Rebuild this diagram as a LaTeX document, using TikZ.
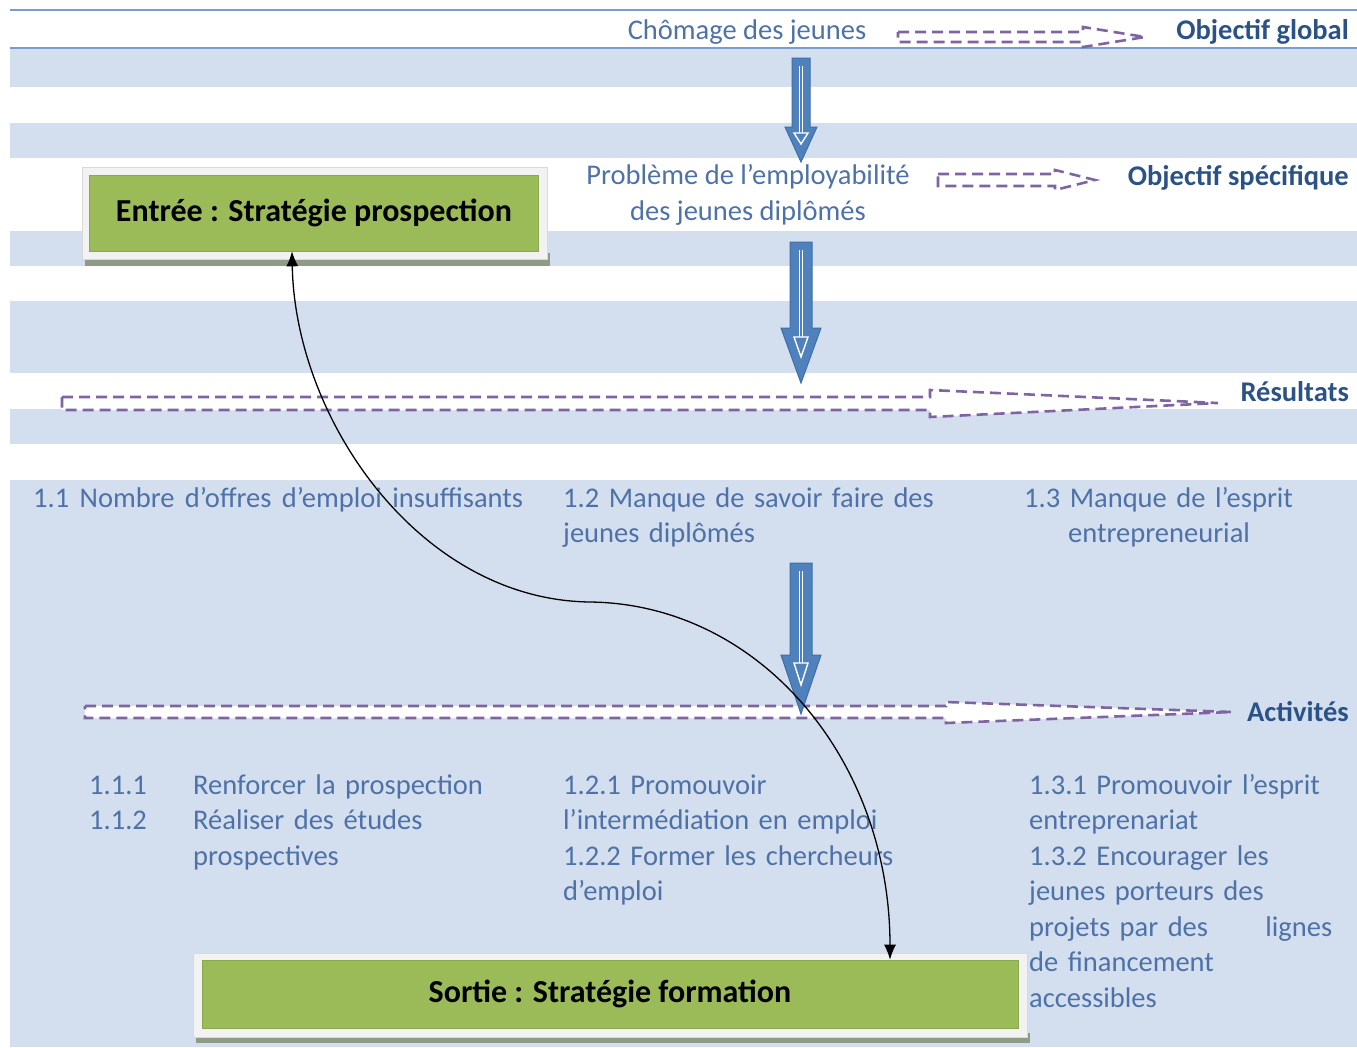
\documentclass[tikz,border=0pt]{standalone}
\usepackage{fontspec}
\setmainfont{Carlito}
\usetikzlibrary{arrows.meta}
\definecolor{bandblue}{HTML}{D3DFEE}
\definecolor{rulerblue}{HTML}{7A9CCB}
\definecolor{txtblue}{HTML}{4E72A8}
\definecolor{lblblue}{HTML}{2B5287}
\definecolor{dashpurple}{HTML}{8064A2}
\definecolor{arrfill}{HTML}{4F81BD}
\definecolor{arrdraw}{HTML}{3F6EA6}
\definecolor{boxgreen}{HTML}{9BBB59}
\definecolor{boxgreenline}{HTML}{8AA94C}
\definecolor{frameg}{HTML}{F2F2F2}
\definecolor{shadowg}{HTML}{8E9B86}
\tikzset{
  band/.style={fill=bandblue, draw=none},
  ruler/.style={draw=rulerblue, line width=1.6pt},
  blkarr/.style={fill=arrfill, draw=arrdraw, line width=1pt, line join=miter},
  dasharr/.style={draw=dashpurple, fill=white, line width=2.6pt, dash pattern=on 11pt off 6pt},
  body/.style={text=txtblue, font=\fontsize{28.5}{35.5}\selectfont, inner sep=0pt},
  lbl/.style={text=lblblue, font=\fontsize{28.5}{32}\selectfont\bfseries, inner sep=0pt},
  gbox/.style={fill=boxgreen, draw=boxgreenline, line width=0.6pt, font=\fontsize{32}{36}\selectfont\bfseries, text=black, inner sep=0pt},
  curvearr/.style={draw=black, line width=1.3pt, {Latex[length=15pt,width=12pt]}-{Latex[length=15pt,width=12pt]}}
}
\newcommand\blkarrow[9]{%
  \draw[blkarr] (#1-#5,#2) -- (#1+#5,#2) -- (#1+#5,#3) -- (#1+#6,#3) -- (#1,#4) -- (#1-#6,#3) -- (#1-#5,#3) -- cycle;
  \draw[white, line width=1.3pt] (#1-1.5,#9) -- (#1-1.5,#7) (#1+1.5,#9) -- (#1+1.5,#7);
  \draw[white, line width=1.4pt, line join=miter] (#1-7,#7) -- (#1+7,#7) -- (#1,#8) -- cycle;
}
\begin{document}
\begin{tikzpicture}[x=1pt,y=-1pt]
\useasboundingbox (0,0) rectangle (1357,1047);
% background bands
\fill[band] (10,48) rectangle (1357,87);
\fill[band] (10,123) rectangle (1357,158);
\fill[band] (10,231) rectangle (1357,266);
\fill[band] (10,301) rectangle (1357,373);
\fill[band] (10,409) rectangle (1357,444);
\fill[band] (10,480) rectangle (1357,1047);
\draw[ruler] (10,10) -- (1357,10);
\draw[ruler] (10,48) -- (1357,48);

% dashed arrow shapes
\draw[dasharr] (898,32) -- (1083,32) -- (1083,27) -- (1145,37) -- (1083,47) -- (1083,42) -- (898,42) -- cycle;
\draw[dasharr] (938,174) -- (1055,174) -- (1055,170) -- (1095,180) -- (1055,190) -- (1055,186) -- (938,186) -- cycle;
\draw[dasharr] (62,397) -- (930,397) -- (930,390) -- (1218,403) -- (930,417) -- (930,410) -- (62,410) -- cycle;
\draw[dasharr] (85,706) -- (946,706) -- (946,702) -- (1232,712) -- (946,723) -- (946,718) -- (85,718) -- cycle;

% block arrows
\blkarrow{801}{58}{127}{162}{9}{16}{133}{144}{66}
\blkarrow{801}{242}{328}{383}{11}{20}{337}{357}{250}
\blkarrow{801}{563}{655}{714}{11}{20}{663}{685}{571}

% labels
\node[lbl, anchor=base east] (lglob) at (1349,39) {Objectif global};
\node[lbl, anchor=base east] (lspec) at (1349,185) {Objectif spécifique};
\node[lbl, anchor=base east] (lres) at (1349,401) {Résultats};
\node[lbl, anchor=base east] (lact) at (1349,721) {Activités};

% body texts
\node[body, anchor=base] (chom) at (747,39) {Chômage des jeunes};
\node[body, anchor=base, align=center] (prob) at (748,220) {Problème de l’employabilité\\des jeunes diplômés};
\node[body, anchor=base west] (r11) at (33,507) {\makebox[490pt][s]{1.1 Nombre d’offres d’emploi insuffisants}};
\node[body, anchor=base west, text width=400pt, align=left] (r12) at (563,507) {1.2 Manque de savoir faire des\\jeunes diplômés};
\node[body, anchor=base west, text width=330pt, align=left] (r13) at (1024,507) {1.3 Manque de l’esprit\\\hspace*{44pt}entrepreneurial};
\node[body, anchor=base west, text width=80pt, align=left] (a11n) at (89,794) {1.1.1\\1.1.2};
\node[body, anchor=base west, text width=320pt, align=left] (a11) at (193,794) {Renforcer la prospection\\Réaliser des études\\prospectives};
\node[body, anchor=base west, text width=400pt, align=left] (a12) at (563,794) {1.2.1 Promouvoir\\l’intermédiation en emploi\\1.2.2 Former les chercheurs\\d’emploi};
\node[body, anchor=base west, text width=320pt, align=left] (a13) at (1029,794) {1.3.1 Promouvoir l’esprit\\entreprenariat\\1.3.2 Encourager les\\jeunes porteurs des\\\makebox[303pt][l]{projets par des\hfill lignes}\\de financement\\accessibles};

% green boxes
\fill[shadowg] (85,253) rectangle (550,266);
\fill[frameg, draw=gray!30, line width=0.5pt] (82,167) rectangle (547,259);
\node[gbox, minimum width=449pt, minimum height=76pt] (entree) at (314,213) {Entrée : Stratégie prospection};

\fill[shadowg] (196,1033) rectangle (1030,1043);
\fill[frameg, draw=gray!30, line width=0.5pt] (193,953) rectangle (1027,1037);
\node[gbox, minimum width=816pt, minimum height=68pt] (sortie) at (610,994) {Sortie : Stratégie formation};

% curved connector
\coordinate (ctop) at (entree.south -| 292,0);
\coordinate (cbot) at (sortie.north -| 890,0);
\draw[curvearr] (ctop) .. controls (295,420) and (420,600) .. (590,602) .. controls (760,604) and (890,760) .. (cbot);
\end{tikzpicture}
\end{document}
